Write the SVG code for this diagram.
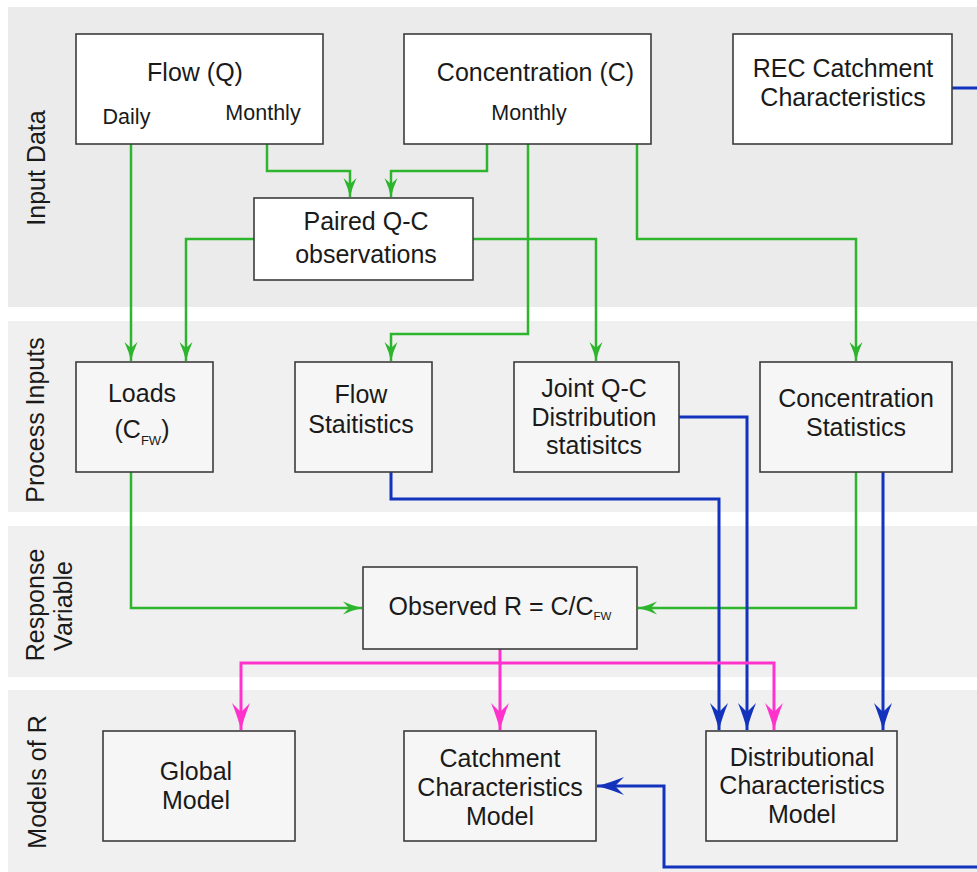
<svg xmlns="http://www.w3.org/2000/svg" width="977" height="872" viewBox="0 0 977 872">
<defs>
<style>
.band1{fill:#ebebeb}
.band{fill:#f0f0f0}
.box1{fill:#ffffff;stroke:#3c3c3c;stroke-width:1.6}
.box{fill:#f6f6f6;stroke:#3c3c3c;stroke-width:1.6}
text{font-family:"Liberation Sans",Arial,sans-serif;fill:#1a1a1a}
.t{font-size:25px;text-anchor:middle}
.s{font-size:21.5px;text-anchor:middle}
.lab{font-size:25px;text-anchor:middle}
.g{fill:none;stroke:#2db52d;stroke-width:2.5}
.b{fill:none;stroke:#1333bd;stroke-width:3}
.m{fill:none;stroke:#ff33cc;stroke-width:3}
</style>
<marker id="ag" markerUnits="userSpaceOnUse" viewBox="-22 -9 24 18" refX="0" refY="0" markerWidth="24" markerHeight="18" orient="auto">
<path d="M0,0 Q-9,-2 -19,-6.5 L-13,0 L-19,6.5 Q-9,2 0,0 Z" fill="#2db52d"/>
</marker>
<marker id="ab" markerUnits="userSpaceOnUse" viewBox="-30 -11 32 22" refX="0" refY="0" markerWidth="32" markerHeight="22" orient="auto">
<path d="M0,0 Q-12,-3 -27,-9 L-18,0 L-27,9 Q-12,3 0,0 Z" fill="#1333bd"/>
</marker>
<marker id="am" markerUnits="userSpaceOnUse" viewBox="-30 -11 32 22" refX="0" refY="0" markerWidth="32" markerHeight="22" orient="auto">
<path d="M0,0 Q-12,-3 -27,-9 L-18,0 L-27,9 Q-12,3 0,0 Z" fill="#ff33cc"/>
</marker>
</defs>

<g id="bands">
<rect class="band1" x="8" y="7" width="969" height="300"/>
<rect class="band" x="8" y="321" width="969" height="191"/>
<rect class="band" x="8" y="526" width="969" height="151"/>
<rect class="band" x="8" y="690" width="969" height="182"/>
<text class="lab" transform="translate(45,168) rotate(-90)">Input Data</text>
<text class="lab" transform="translate(44,420) rotate(-90)">Process Inputs</text>
<text class="lab" transform="translate(44,605) rotate(-90)">Response</text>
<text class="lab" transform="translate(72,606) rotate(-90)">Variable</text>
<text class="lab" transform="translate(46,782) rotate(-90)">Models of R</text>
</g>

<g id="connectors">
<!-- green -->
<path class="g" d="M131,144 V361" marker-end="url(#ag)"/>
<path class="g" d="M267,144 V171 H350 V197" marker-end="url(#ag)"/>
<path class="g" d="M487,144 V171 H391 V197" marker-end="url(#ag)"/>
<path class="g" d="M254,239 H186 V361" marker-end="url(#ag)"/>
<path class="g" d="M473,239 H596 V361" marker-end="url(#ag)"/>
<path class="g" d="M528,144 V334 H391 V361" marker-end="url(#ag)"/>
<path class="g" d="M637,144 V239 H856 V361" marker-end="url(#ag)"/>
<path class="g" d="M131,472 V608 H362" marker-end="url(#ag)"/>
<path class="g" d="M856,472 V608 H638" marker-end="url(#ag)"/>
<!-- blue -->
<path class="b" d="M391,472 V499 H719 V730" marker-end="url(#ab)"/>
<path class="b" d="M679,417 H747 V730" marker-end="url(#ab)"/>
<path class="b" d="M883,472 V730" marker-end="url(#ab)"/>
<path class="b" d="M952,88 H982 V867 H664 V786 H597" marker-end="url(#ab)"/>
<!-- magenta -->
<path class="m" d="M500,649 V663 H241 V730" marker-end="url(#am)"/>
<path class="m" d="M500,663 V730" marker-end="url(#am)"/>
<path class="m" d="M500,663 H774 V730" marker-end="url(#am)"/>
</g>

<g id="flow">
<rect class="box1" x="76" y="34" width="247" height="110"/>
<text class="t" x="195" y="81">Flow (Q)</text>
<text class="s" x="126.5" y="124">Daily</text>
<text class="s" x="263" y="120">Monthly</text>
</g>
<g id="concentration">
<rect class="box1" x="404" y="34" width="247" height="110"/>
<text class="t" x="535.5" y="81">Concentration (C)</text>
<text class="s" x="529" y="120">Monthly</text>
</g>
<g id="rec">
<rect class="box1" x="733" y="34" width="219" height="110"/>
<text class="t" x="843" y="77">REC Catchment</text>
<text class="t" x="843" y="106">Characteristics</text>
</g>
<g id="paired">
<rect class="box1" x="254" y="198" width="219" height="82"/>
<text class="t" x="366" y="230">Paired Q-C</text>
<text class="t" x="366" y="263">observations</text>
</g>

<g id="loads">
<rect class="box" x="76" y="362" width="137" height="110"/>
<text class="t" x="142" y="402">Loads</text>
<text class="t" x="142" y="438">(C<tspan font-size="13" dy="7">FW</tspan><tspan dy="-7">)</tspan></text>
</g>
<g id="flowstats">
<rect class="box" x="295" y="362" width="137" height="110"/>
<text class="t" x="361" y="403">Flow</text>
<text class="t" x="361" y="433">Staitistics</text>
</g>
<g id="joint">
<rect class="box" x="514" y="362" width="165" height="110"/>
<text class="t" x="594" y="397">Joint Q-C</text>
<text class="t" x="594" y="426">Distribution</text>
<text class="t" x="594" y="454">statisitcs</text>
</g>
<g id="concstats">
<rect class="box" x="760" y="362" width="192" height="110"/>
<text class="t" x="856" y="407">Concentration</text>
<text class="t" x="856" y="436">Statistics</text>
</g>

<g id="observed">
<rect class="box" x="363" y="567" width="274" height="82"/>
<text class="t" x="500" y="615">Observed R = C/C<tspan font-size="11.5" dy="5">FW</tspan></text>
</g>

<g id="global">
<rect class="box" x="103" y="731" width="192" height="110"/>
<text class="t" x="196" y="780">Global</text>
<text class="t" x="196" y="809">Model</text>
</g>
<g id="catchment">
<rect class="box" x="404" y="731" width="192" height="110"/>
<text class="t" x="500" y="767">Catchment</text>
<text class="t" x="500" y="796">Characteristics</text>
<text class="t" x="500" y="825">Model</text>
</g>
<g id="distributional">
<rect class="box" x="706" y="731" width="191" height="110"/>
<text class="t" x="802" y="766">Distributional</text>
<text class="t" x="802" y="794">Characteristics</text>
<text class="t" x="802" y="823">Model</text>
</g>
</svg>
